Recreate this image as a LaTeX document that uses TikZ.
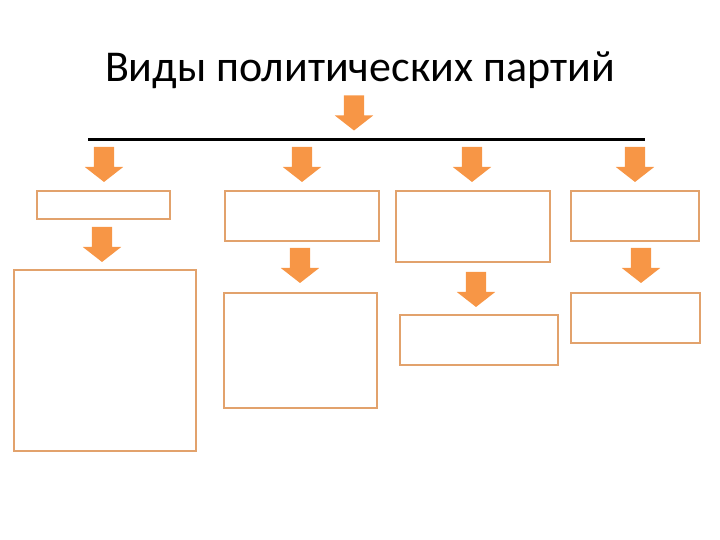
\documentclass[tikz,border=0pt]{standalone}
\usepackage{fontspec}
\setmainfont{Carlito}
\usetikzlibrary{shapes.arrows}
\definecolor{strelkaOranzh}{HTML}{F79646}
\definecolor{ramkaOranzh}{HTML}{E2A26C}
\tikzset{
  strelka/.style={single arrow, fill=strelkaOranzh, draw=none, inner xsep=10bp, inner ysep=0pt,
    shape border rotate=270, minimum height=35bp,
    single arrow head extend=9bp, single arrow tip angle=104},
  ramka/.style={draw=ramkaOranzh, line width=2bp, inner sep=0pt}
}
\begin{document}
\begin{tikzpicture}[x=1bp, y=-1bp]
    \useasboundingbox (0,0) rectangle (720,540);

    % Заголовок
    \node[anchor=base, font=\fontsize{44bp}{52bp}\selectfont] (zagolovok) at (360,82) {Виды политических партий};
    \node[strelka] (strVerh) at (354,109) {};
    \draw[line width=3bp] (88,140) coordinate (liniyaL) -- (645,140) coordinate (liniyaP);

    % Первый ряд: стрелки и рамки
    \node[strelka] (str1) at (104,160.5) {};
    \node[strelka] (str2) at (302,160.5) {};
    \node[strelka] (str3) at (472,160.5) {};
    \node[strelka] (str4) at (635,160.5) {};

    \node[ramka, minimum width=133bp, minimum height=28bp] (vid1) at (103.5,205) {};
    \node[ramka, minimum width=154bp, minimum height=50bp] (vid2) at (302,216) {};
    \node[ramka, minimum width=154bp, minimum height=71bp] (vid3) at (473,226.5) {};
    \node[ramka, minimum width=128bp, minimum height=50bp] (vid4) at (635,216) {};

    % Второй ряд
    \node[strelka] (str5) at (102,240.5) {};
    \node[strelka] (str6) at (300,261.5) {};
    \node[strelka] (str7) at (476,285.5) {};
    \node[strelka] (str8) at (641,261.5) {};

    \node[ramka, minimum width=182bp, minimum height=181bp] (opis1) at (105,360.5) {};
    \node[ramka, minimum width=153bp, minimum height=115bp] (opis2) at (300.5,350.5) {};
    \node[ramka, minimum width=158bp, minimum height=50bp] (opis3) at (479,340) {};
    \node[ramka, minimum width=129bp, minimum height=50bp] (opis4) at (635.5,318) {};
\end{tikzpicture}
\end{document}
